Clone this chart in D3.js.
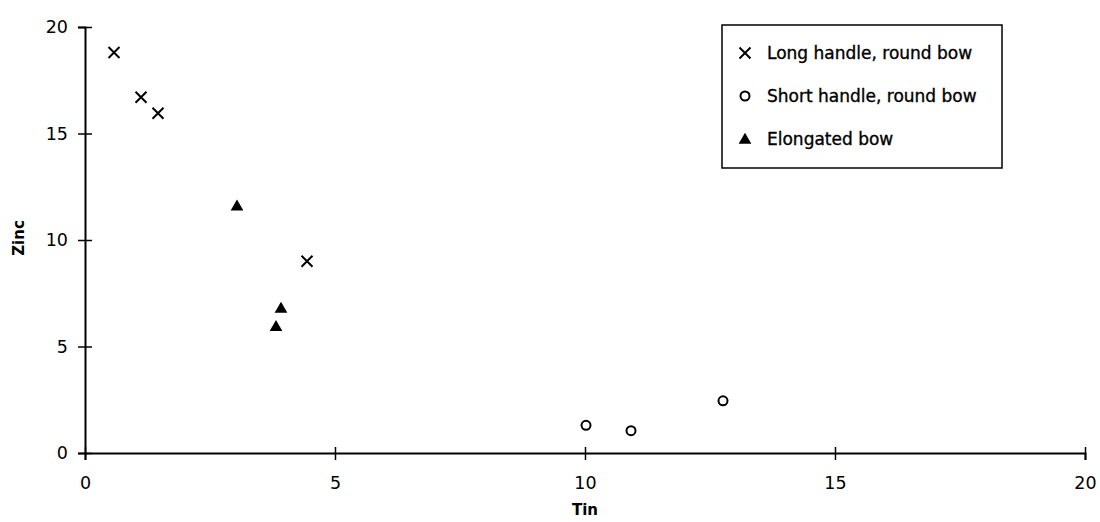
<!DOCTYPE html>
<html>
<head>
<meta charset="utf-8">
<script src="https://cdn.jsdelivr.net/npm/d3@7"></script>
<style>
  body { margin: 0; background: #fff; }
  svg { font-family: "DejaVu Sans", Arial, sans-serif; }
</style>
</head>
<body>
<div id="chart"></div>
<script>
// DATA
var seriesNames = ["Long handle, round bow", "Short handle, round bow", "Elongated bow"];
var longTin  = [0.58, 1.12, 1.46, 4.44];
var longZinc = [18.8, 16.7, 15.95, 9.0];
var shortTin  = [10.02, 10.92, 12.76];
var shortZinc = [1.3, 1.05, 2.45];
var elongTin  = [3.04, 3.92, 3.82];
var elongZinc = [11.6, 6.8, 5.95];
var xTicks = [0, 5, 10, 15, 20];
var yTicks = [0, 5, 10, 15, 20];

var W = 1100, H = 522;
var margin = {top: 27, right: 15, bottom: 69, left: 85};
var width = W - margin.left - margin.right,
    height = H - margin.top - margin.bottom;

var svg = d3.select("#chart").append("svg")
    .attr("width", W).attr("height", H)
  .append("g")
    .attr("transform", "translate(" + margin.left + "," + margin.top + ")");

var x = d3.scaleLinear().domain([0, 20]).range([0, width]);
var y = d3.scaleLinear().domain([0, 20]).range([height, 0]);

// X axis
var gx = svg.append("g")
  .attr("transform", "translate(0," + height + ")")
  .call(d3.axisBottom(x).tickValues(xTicks).tickSize(7).tickPadding(17));
gx.selectAll(".tick line").attr("y1", -6).attr("y2", 7);

// Y axis
var gy = svg.append("g")
  .call(d3.axisLeft(y).tickValues(yTicks).tickSize(7).tickPadding(10));
gy.selectAll(".tick line").attr("x1", -7).attr("x2", 7);

[gx, gy].forEach(function(g){
  g.select(".domain").attr("stroke", "#000").attr("stroke-width", 2);
  g.selectAll(".tick line").attr("stroke", "#000").attr("stroke-width", 1.5);
  g.selectAll("text").attr("fill", "#000")
    .style("font-family", "'DejaVu Sans', sans-serif").style("font-size", "17.5px");
});

// axis titles
svg.append("text")
  .attr("x", width / 2).attr("y", height + 62)
  .attr("text-anchor", "middle")
  .style("font-size", "15px").style("font-weight", "bold")
  .text("Tin");
svg.append("text")
  .attr("transform", "translate(" + (-61) + "," + (height / 2 - 2) + ") rotate(-90)")
  .attr("text-anchor", "middle")
  .style("font-size", "15px").style("font-weight", "bold")
  .text("Zinc");

// markers
var crossPath = "M-5.5,-5.5L5.5,5.5M-5.5,5.5L5.5,-5.5";
var triSym = d3.symbol().type(d3.symbolTriangle).size(70);

function drawCross(g, cx, cy) {
  g.append("path").attr("d", crossPath)
    .attr("transform", "translate(" + cx + "," + cy + ")")
    .attr("stroke", "#000").attr("stroke-width", 2).attr("fill", "none");
}
function drawCircle(g, cx, cy) {
  g.append("circle").attr("cx", cx).attr("cy", cy).attr("r", 4.5)
    .attr("fill", "none").attr("stroke", "#000").attr("stroke-width", 2);
}
function drawTri(g, cx, cy) {
  g.append("path").attr("d", triSym())
    .attr("transform", "translate(" + cx + "," + (cy + 1) + ")")
    .attr("fill", "#000");
}

longTin.forEach(function(t, i){ drawCross(svg, x(t), y(longZinc[i])); });
shortTin.forEach(function(t, i){ drawCircle(svg, x(t), y(shortZinc[i])); });
elongTin.forEach(function(t, i){ drawTri(svg, x(elongTin[i]), y(elongZinc[i])); });

// legend
var lg = svg.append("g").attr("transform", "translate(" + (722 - margin.left) + "," + (25 - margin.top) + ")");
lg.append("rect").attr("width", 280).attr("height", 143)
  .attr("fill", "#fff").attr("stroke", "#000").attr("stroke-width", 1.5);
var drawers = [drawCross, drawCircle, drawTri];
seriesNames.forEach(function(n, i){
  var ry = 28 + i * 43;
  drawers[i](lg, 23, ry);
  lg.append("text").attr("x", 45).attr("y", ry + 6)
    .style("font-size", "17px").attr("fill", "#000")
    .attr("stroke", "#000").attr("stroke-width", 0.35)
    .text(n);
});
</script>
</body>
</html>
